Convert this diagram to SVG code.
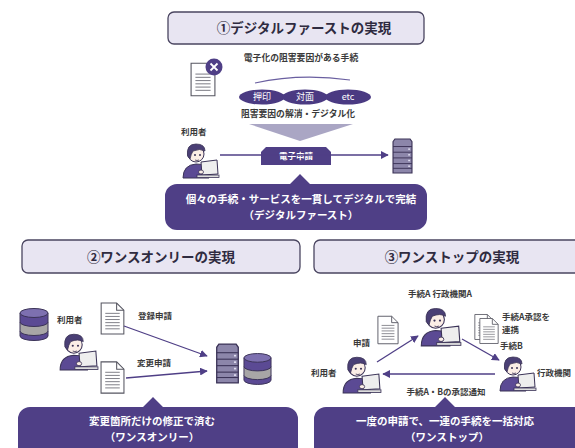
<svg xmlns="http://www.w3.org/2000/svg" xmlns:xlink="http://www.w3.org/1999/xlink" width="575" height="448" viewBox="0 0 575 448">
  <style>
    text { font-family: "Noto Sans CJK JP", "Noto Sans", sans-serif; font-weight: bold; }
    .title-box { fill: #e8e5f2; stroke: #4a4560; stroke-width: 1.3; }
    .title { font-size: 13.5px; fill: #2f2b40; text-anchor: middle; }
    .label { font-size: 8.8px; fill: #3a3a3a; }
    .mid { text-anchor: middle; }
    .callout { fill: #4f3f86; }
    .callout-text { font-size: 10.5px; fill: #ffffff; text-anchor: middle; }
    .pill { fill: #4a3a82; }
    .pill-text { font-size: 9px; fill: #ffffff; text-anchor: middle; font-weight: normal; }
    .link { stroke: #4f3f86; stroke-width: 1.3; fill: none; }
  </style>
  <defs>
    <marker id="arrow" viewBox="0 0 10 10" refX="9" refY="5" markerWidth="6" markerHeight="6" orient="auto-start-reverse">
      <path d="M0 0 L10 5 L0 10 Z" fill="#4f3f86"/>
    </marker>
    <!-- paper sheet with folded corner -->
    <symbol id="doc" viewBox="0 0 24 32">
      <path d="M1 1 H16 L23 8 V31 H1 Z" fill="#ffffff" stroke="#555560" stroke-width="1"/>
      <path d="M16 1 V8 H23" fill="none" stroke="#555560" stroke-width="1"/>
      <g stroke="#777780" stroke-width="0.9">
        <line x1="5" y1="11" x2="19" y2="11"/>
        <line x1="5" y1="14" x2="19" y2="14"/>
        <line x1="5" y1="17" x2="19" y2="17"/>
        <line x1="5" y1="20" x2="19" y2="20"/>
        <line x1="5" y1="23" x2="19" y2="23"/>
        <line x1="5" y1="26" x2="19" y2="26"/>
      </g>
    </symbol>
    <!-- rack server -->
    <symbol id="server" viewBox="0 0 22 38">
      <path d="M3 1 H19 L21 4 V37 H1 V4 Z" fill="#8c86aa" stroke="#3b3357" stroke-width="1.2"/>
      <g stroke="#3b3357" stroke-width="1">
        <line x1="1" y1="9" x2="21" y2="9"/>
        <line x1="1" y1="15" x2="21" y2="15"/>
        <line x1="1" y1="21" x2="21" y2="21"/>
        <line x1="1" y1="27" x2="21" y2="27"/>
        <line x1="1" y1="32" x2="21" y2="32"/>
      </g>
      <g fill="#e0def0">
        <rect x="17" y="11" width="2" height="1.5"/>
        <rect x="17" y="17" width="2" height="1.5"/>
        <rect x="17" y="23" width="2" height="1.5"/>
        <rect x="17" y="29" width="2" height="1.5"/>
      </g>
    </symbol>
    <!-- stacked database -->
    <symbol id="db" viewBox="0 0 30 34">
      <path d="M1 24 V29 A14 4.5 0 0 0 29 29 V24 Z" fill="#5b4a94" stroke="#3b3357" stroke-width="1"/>
      <path d="M1 15 V24 A14 4.5 0 0 0 29 24 V15 Z" fill="#a8a6a6" stroke="#3b3357" stroke-width="1"/>
      <path d="M1 6 V15 A14 4.5 0 0 0 29 15 V6 Z" fill="#5b4a94" stroke="#3b3357" stroke-width="1"/>
      <ellipse cx="15" cy="6" rx="14" ry="4.5" fill="#7d70b0" stroke="#3b3357" stroke-width="1"/>
    </symbol>
    <!-- person at a computer -->
    <symbol id="person" viewBox="0 0 40 40">
      <path d="M3 39 Q3 26 16 25 Q27 25 29 31 L29 39 Z" fill="#5b4a94" stroke="#3b3357" stroke-width="1"/>
      <circle cx="16" cy="15" r="8" fill="#fbeee6" stroke="#3b3357" stroke-width="1"/>
      <path d="M7.5 17 Q6 5 16 5 Q25 5 25 12 Q20 9 13 12 Q11 15 10 20 Z" fill="#4a3f75" stroke="#3b3357" stroke-width="0.8"/>
      <circle cx="15" cy="16" r="1" fill="#3b3357"/>
      <circle cx="20" cy="16" r="1" fill="#3b3357"/>
      <path d="M15 21 Q17 22 19 21" fill="none" stroke="#3b3357" stroke-width="0.8"/>
      <path d="M21 23 L37 21 L38 35 L22 36 Z" fill="#eeeeee" stroke="#3b3357" stroke-width="1"/>
      <rect x="17" y="36" width="22" height="2.5" fill="#dddddd" stroke="#3b3357" stroke-width="0.8"/>
      <ellipse cx="21" cy="33" rx="2.5" ry="2" fill="#fbeee6" stroke="#3b3357" stroke-width="0.8"/>
    </symbol>
  </defs>

  <rect width="575" height="448" fill="#ffffff"/>

  <!-- section 1: digital first -->
  <g id="title1">
    <rect class="title-box" x="168" y="12" width="256" height="32" rx="6"/>
    <text class="title" x="304" y="33">①デジタルファーストの実現</text>
  </g>
  <g id="obstacle-doc">
    <use href="#doc" x="190" y="62" width="26" height="35"/>
    <circle cx="214" cy="67" r="8.5" fill="#4f3f86"/>
    <path d="M210.5 63.5 L217.5 70.5 M217.5 63.5 L210.5 70.5" stroke="#ffffff" stroke-width="1.8"/>
  </g>
  <text class="label mid" x="301" y="61">電子化の阻害要因がある手続</text>
  <path d="M255 83 Q300 73 350 80" fill="none" stroke="#6a5fa0" stroke-width="1.2"/>
  <g id="pill-seal">
    <ellipse class="pill" cx="262" cy="97" rx="23" ry="7.5"/>
    <text class="pill-text" x="262" y="100">押印</text>
  </g>
  <g id="pill-face">
    <ellipse class="pill" cx="305" cy="97" rx="23" ry="7.5"/>
    <text class="pill-text" x="305" y="100">対面</text>
  </g>
  <g id="pill-etc">
    <ellipse class="pill" cx="348" cy="97" rx="23" ry="7.5"/>
    <text class="pill-text" x="348" y="100">etc</text>
  </g>
  <text class="label mid" x="298" y="117">阻害要因の解消・デジタル化</text>
  <polygon points="249,124 353,124 300,141" fill="#aaa6c4"/>

  <g id="user1">
    <text class="label" x="181" y="135" style="font-size:8.5px">利用者</text>
    <use href="#person" x="180" y="139" width="40" height="40"/>
  </g>
  <g id="e-application">
    <path d="M266 147 H326 L331 152 V165 H261 V152 Z" fill="#4f3f86"/>
    <text class="label mid" x="296" y="159" style="fill:#fff;font-size:8.5px">電子申請</text>
  </g>
  <g id="server1">
    <use href="#server" x="392" y="138" width="21" height="36"/>
  </g>

  <g id="callout1">
    <path class="callout" d="M177 184 H290 L300 174 L310 184 H415 A12 12 0 0 1 427 196 V218 A12 12 0 0 1 415 230 H177 A12 12 0 0 1 165 218 V196 A12 12 0 0 1 177 184 Z"/>
    <text class="callout-text" x="301" y="203">個々の手続・サービスを一貫してデジタルで完結</text>
    <text class="callout-text" x="301" y="219">（デジタルファースト）</text>
  </g>

  <!-- section 2: once only -->
  <g id="title2">
    <rect class="title-box" x="22" y="240" width="278" height="33" rx="6"/>
    <text class="title" x="161" y="262">②ワンスオンリーの実現</text>
  </g>
  <g id="user-db">
    <use href="#db" x="19" y="307" width="30" height="34"/>
  </g>
  <g id="user2">
    <text class="label" x="57" y="323" style="font-size:8.5px">利用者</text>
    <use href="#person" x="57" y="329" width="42" height="42"/>
  </g>
  <g id="doc-register">
    <use href="#doc" x="100" y="302" width="25" height="33"/>
    <text class="label" x="138" y="319" style="font-size:8.5px">登録申請</text>
  </g>
  <g id="doc-change">
    <use href="#doc" x="100" y="360" width="25" height="35"/>
    <text class="label" x="137" y="366" style="font-size:8.5px">変更申請</text>
  </g>
  <g id="server2">
    <use href="#server" x="215" y="343" width="25" height="41"/>
  </g>
  <g id="db2">
    <use href="#db" x="243" y="352" width="29" height="33"/>
  </g>

  <g id="callout2">
    <path class="callout" d="M30 407 H143 L153 397 L163 407 H286 A12 12 0 0 1 298 419 V460 H18 V419 A12 12 0 0 1 30 407 Z"/>
    <text class="callout-text" x="152" y="425">変更箇所だけの修正で済む</text>
    <text class="callout-text" x="152" y="441">（ワンスオンリー）</text>
  </g>

  <!-- section 3: one stop -->
  <g id="title3">
    <rect class="title-box" x="314" y="240" width="280" height="33" rx="6"/>
    <text class="title" x="452" y="262">③ワンストップの実現</text>
  </g>
  <g id="agency-a">
    <text class="label mid" x="440" y="297" style="font-size:8.5px">手続A 行政機関A</text>
    <use href="#person" x="418" y="303" width="44" height="44"/>
  </g>
  <g id="doc-apply">
    <use href="#doc" x="377" y="315" width="22" height="30"/>
    <text class="label" x="353" y="346" style="font-size:8.5px">申請</text>
  </g>
  <g id="doc-approval">
    <use href="#doc" x="474" y="312" width="20" height="30"/>
    <use href="#doc" x="479" y="316" width="20" height="30"/>
    <text class="label" x="502" y="320" style="font-size:8.5px">手続A承認を</text>
    <text class="label" x="502" y="333" style="font-size:8.5px">連携</text>
  </g>
  <g id="agency-b">
    <text class="label" x="500" y="349" style="font-size:8.5px">手続B</text>
    <use href="#person" x="497" y="351" width="40" height="42"/>
    <text class="label" x="537" y="376" style="font-size:8.5px">行政機関</text>
  </g>
  <g id="user3">
    <text class="label" x="311" y="376" style="font-size:8.5px">利用者</text>
    <use href="#person" x="340" y="352" width="42" height="42"/>
  </g>
  <text class="label mid" x="446" y="395" style="font-size:8.5px">手続A・Bの承認通知</text>

  <g id="callout3">
    <path class="callout" d="M326 407 H435 L445 397 L455 407 H590 V460 H314 V419 A12 12 0 0 1 326 407 Z"/>
    <text class="callout-text" x="445" y="425">一度の申請で、一連の手続を一括対応</text>
    <text class="callout-text" x="447" y="441">（ワンストップ）</text>
  </g>

  <!-- connectors -->
  <g id="connectors">
    <line class="link" x1="220" y1="155" x2="388" y2="155" marker-end="url(#arrow)"/>
    <line class="link" x1="124" y1="326" x2="207" y2="356" marker-end="url(#arrow)"/>
    <line class="link" x1="126" y1="378" x2="207" y2="371" marker-end="url(#arrow)"/>
    <line class="link" x1="377" y1="362" x2="418" y2="336" marker-end="url(#arrow)"/>
    <line class="link" x1="462" y1="339" x2="499" y2="360" marker-end="url(#arrow)"/>
    <line class="link" x1="495" y1="374" x2="383" y2="374" marker-end="url(#arrow)"/>
  </g>
</svg>
